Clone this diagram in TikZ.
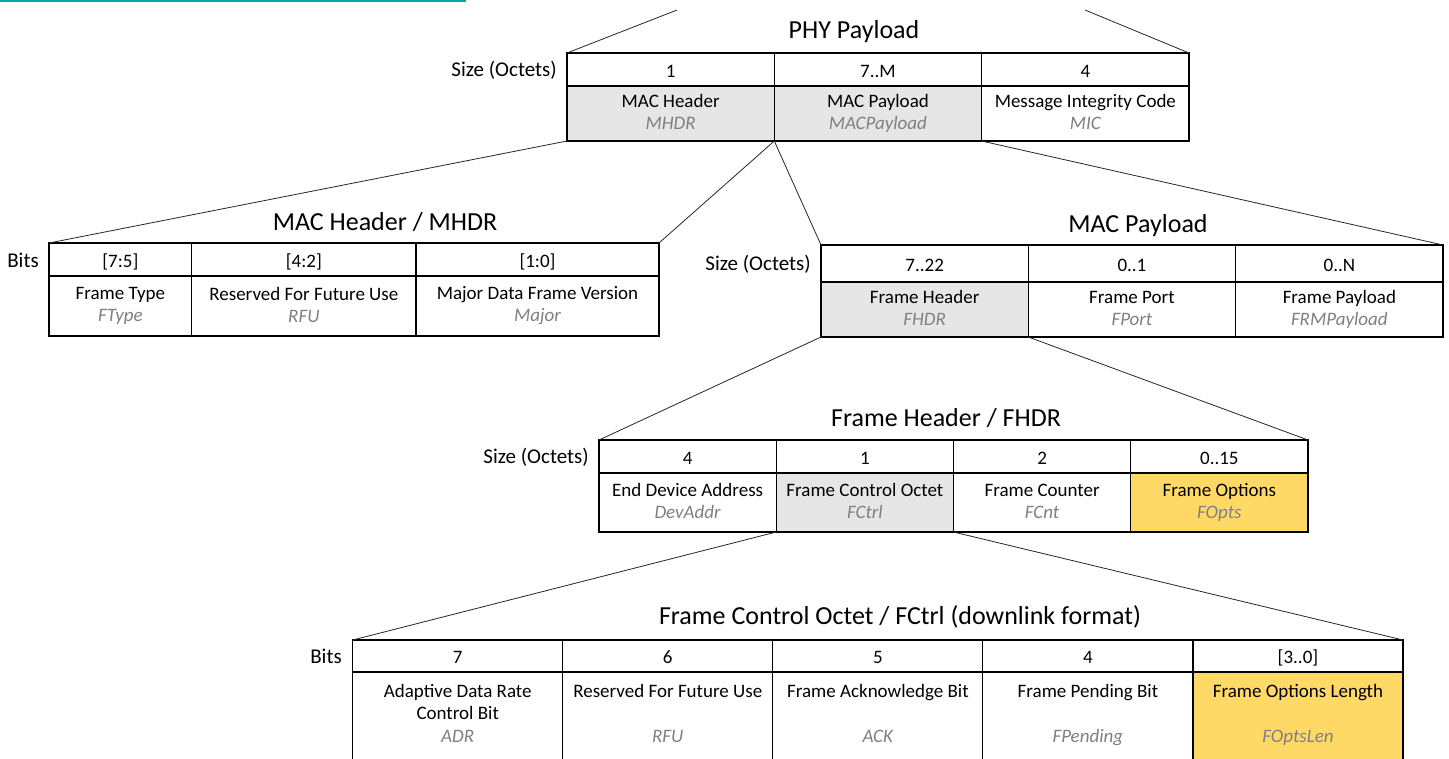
\documentclass[tikz,border=0pt]{standalone}
\usepackage{fontspec}
\setmainfont{Carlito}
\definecolor{cellgrey}{RGB}{231,230,230}
\definecolor{subgrey}{RGB}{128,128,128}
\definecolor{optyellow}{RGB}{255,217,102}
\definecolor{topline}{RGB}{0,170,160}
\newcommand{\cellfont}{\fontsize{19}{22}\selectfont}
\newcommand{\labfont}{\fontsize{21}{24}\selectfont}
\newcommand{\titlefont}{\fontsize{26}{30}\selectfont}
\newcommand{\cstrut}{\rule[-3pt]{0pt}{21pt}}
\newcommand{\subtxt}[1]{\cstrut\textcolor{subgrey}{\itshape #1}}
\begin{document}
\begin{tikzpicture}[x=1pt,y=-1pt,
  cell/.style={draw=black, line width=1.2pt, rectangle, inner sep=0pt, outer sep=0pt,
    anchor=north west, align=center, font=\cellfont, text=black,
    execute at begin node=\cstrut},
  gcell/.style={cell, fill=cellgrey},
  ycell/.style={cell, fill=optyellow},
  txt/.style={font=\cellfont, inner sep=0pt, align=center, execute at begin node=\cstrut},
  stxt/.style={font=\cellfont, inner sep=0pt, text=subgrey, execute at begin node=\cstrut},
  rowlab/.style={font=\labfont, inner sep=0pt, anchor=east},
  title/.style={font=\titlefont, inner sep=0pt},
  conn/.style={draw=black!85, line width=0.8pt}]
\useasboundingbox (0,0) rectangle (1449,758);
\fill[white] (0,0) rectangle (1449,758);
\draw[topline, line width=2pt] (0,1) -- (466,1);

% PHY Payload
\node[title] (tphy) at (854,32) {PHY Payload};
\node[rowlab] (lphy) at (557,70) {Size (Octets)};
\node[cell, minimum width=207.3pt, minimum height=33pt] (p1s) at (567,53) {1};
\node[cell, minimum width=207.3pt, minimum height=33pt] (p2s) at (774.3,53) {7..M};
\node[cell, minimum width=207.3pt, minimum height=33pt] (p3s) at (981.7,53) {4};
\node[gcell, minimum width=207.3pt, minimum height=55pt] (p1) at (567,86) {MAC Header\\\subtxt{MHDR}};
\node[gcell, minimum width=207.3pt, minimum height=55pt] (p2) at (774.3,86) {MAC Payload\\\subtxt{MACPayload}};
\node[cell, minimum width=207.3pt, minimum height=55pt] (p3) at (981.7,86) {Message Integrity Code\\\subtxt{MIC}};
\coordinate (tl) at (677,10);
\coordinate (tr) at (1085,10);
\draw[conn] (p1s.north west) -- (tl);
\draw[conn] (p3s.north east) -- (tr);

% MAC Header
\node[title] (tmhdr) at (385,222) {MAC Header / MHDR};
\node[rowlab] (lmhdr) at (39,260) {Bits};
\node[cell, minimum width=142.7pt, minimum height=33pt] (h1s) at (49,243) {[7:5]};
\node[cell, minimum width=224.3pt, minimum height=33pt] (h2s) at (191.7,243) {[4:2]};
\node[cell, minimum width=243pt, minimum height=33pt] (h3s) at (416,243) {[1:0]};
\node[cell, minimum width=142.7pt, minimum height=60pt] (h1) at (49,276) {Frame Type\\\subtxt{FType}};
\node[cell, minimum width=224.3pt, minimum height=60pt] (h2) at (191.7,276) {Reserved For Future Use\\\subtxt{RFU}};
\node[cell, minimum width=243pt, minimum height=60pt] (h3) at (416,276) {Major Data Frame Version\\\subtxt{Major}};
\draw[conn] (p1.south west) -- (h1s.north west);
\draw[conn] (p1.south east) -- (h3s.north east);

% MAC Payload
\node[title] (tmac) at (1138,226) {MAC Payload};
\node[rowlab] (lmac) at (811,264) {Size (Octets)};
\node[cell, minimum width=207.3pt, minimum height=37pt] (m1s) at (821,245) {7..22};
\node[cell, minimum width=207.3pt, minimum height=37pt] (m2s) at (1028.3,245) {0..1};
\node[cell, minimum width=207.3pt, minimum height=37pt] (m3s) at (1235.7,245) {0..N};
\node[gcell, minimum width=207.3pt, minimum height=55pt] (m1) at (821,282) {Frame Header\\\subtxt{FHDR}};
\node[cell, minimum width=207.3pt, minimum height=55pt] (m2) at (1028.3,282) {Frame Port\\\subtxt{FPort}};
\node[cell, minimum width=207.3pt, minimum height=55pt] (m3) at (1235.7,282) {Frame Payload\\\subtxt{FRMPayload}};
\draw[conn] (p2.south west) -- (m1s.north west);
\draw[conn] (p2.south east) -- (m3s.north east);

% Frame Header
\node[title] (tfhdr) at (946,418) {Frame Header / FHDR};
\node[rowlab] (lfhdr) at (589,457) {Size (Octets)};
\node[cell, minimum width=177.25pt, minimum height=33pt] (f1s) at (599,440) {4};
\node[cell, minimum width=177.25pt, minimum height=33pt] (f2s) at (776.25,440) {1};
\node[cell, minimum width=177.25pt, minimum height=33pt] (f3s) at (953.5,440) {2};
\node[cell, minimum width=177.25pt, minimum height=33pt] (f4s) at (1130.75,440) {0..15};
\node[cell, minimum width=177.25pt, minimum height=59pt] (f1) at (599,473) {End Device Address\\\subtxt{DevAddr}};
\node[gcell, minimum width=177.25pt, minimum height=59pt] (f2) at (776.25,473) {Frame Control Octet\\\subtxt{FCtrl}};
\node[cell, minimum width=177.25pt, minimum height=59pt] (f3) at (953.5,473) {Frame Counter\\\subtxt{FCnt}};
\node[ycell, minimum width=177.25pt, minimum height=59pt] (f4) at (1130.75,473) {Frame Options\\\subtxt{FOpts}};
\draw[conn] (m1.south west) -- (f1s.north west);
\draw[conn] (m1.south east) -- (f4s.north east);

% Frame Control Octet
\node[title] (tfctrl) at (900,617) {Frame Control Octet / FCtrl (downlink format)};
\node[rowlab] (lfctrl) at (342,656) {Bits};
\node[cell, minimum width=210.06pt, minimum height=32pt] (c1s) at (352.7,640) {7};
\node[cell, minimum width=210.06pt, minimum height=32pt] (c2s) at (562.76,640) {6};
\node[cell, minimum width=210.06pt, minimum height=32pt] (c3s) at (772.82,640) {5};
\node[cell, minimum width=210.06pt, minimum height=32pt] (c4s) at (982.88,640) {4};
\node[cell, minimum width=210.06pt, minimum height=32pt] (c5s) at (1192.94,640) {[3..0]};
\node[cell, minimum width=210.06pt, minimum height=92pt] (c1) at (352.7,672) {};
\node[cell, minimum width=210.06pt, minimum height=92pt] (c2) at (562.76,672) {};
\node[cell, minimum width=210.06pt, minimum height=92pt] (c3) at (772.82,672) {};
\node[cell, minimum width=210.06pt, minimum height=92pt] (c4) at (982.88,672) {};
\node[ycell, minimum width=210.06pt, minimum height=92pt] (c5) at (1192.94,672) {};
\node[txt] (c1a) at (457.73,690) {Adaptive Data Rate};
\node[txt] (c1b) at (457.73,712) {Control Bit};
\node[stxt] (c1i) at (457.73,735) {\itshape ADR};
\node[txt] (c2a) at (667.79,690) {Reserved For Future Use};
\node[stxt] (c2i) at (667.79,735) {\itshape RFU};
\node[txt] (c3a) at (877.85,690) {Frame Acknowledge Bit};
\node[stxt] (c3i) at (877.85,735) {\itshape ACK};
\node[txt] (c4a) at (1087.91,690) {Frame Pending Bit};
\node[stxt] (c4i) at (1087.91,735) {\itshape FPending};
\node[txt] (c5a) at (1297.97,690) {Frame Options Length};
\node[stxt] (c5i) at (1297.97,735) {\itshape FOptsLen};
\draw[conn] (f2.south west) -- (c1s.north west);
\draw[conn] (f2.south east) -- (c5s.north east);
\end{tikzpicture}
\end{document}
